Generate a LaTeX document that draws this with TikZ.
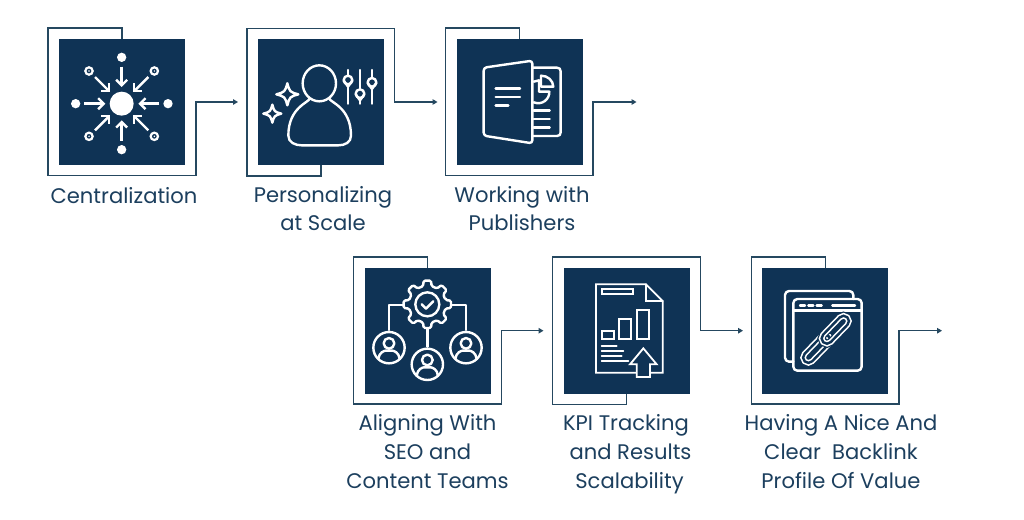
\documentclass[tikz,border=0pt]{standalone}
\usepackage{fontspec}
\setmainfont{Poppins}
\usetikzlibrary{arrows.meta}
\definecolor{navy}{HTML}{0F3355}
\definecolor{ink}{HTML}{1C3F5E}
\definecolor{flowc}{HTML}{254860}
\newcommand{\Sparkle}[3]{%
  \draw[ico,line join=round] (#1,#2-#3) .. controls (#1+.22*#3,#2-.22*#3) .. (#1+#3,#2)
    .. controls (#1+.22*#3,#2+.22*#3) .. (#1,#2+#3)
    .. controls (#1-.22*#3,#2+.22*#3) .. (#1-#3,#2)
    .. controls (#1-.22*#3,#2-.22*#3) .. cycle;}
\newcommand{\PersonRing}[2]{%
  \begin{scope}[shift={(#1,#2)}]
    \draw[ico] (0,0) circle[radius=47];
    \draw[ico] (0,-13) circle[radius=16];
    \draw[ico] (-32,34) .. controls (-30,14) and (-14,9) .. (-10,9) -- (10,9) .. controls (14,9) and (30,14) .. (32,34);
  \end{scope}}
\newcommand{\ChainLink}[2]{%
  \draw[navy,line width=8pt,rounded corners=5.3pt] (#1,-16) rectangle (#2,16);
  \draw[white,line width=5.6pt,rounded corners=5.3pt] (#1,-16) rectangle (#2,16);
  \draw[navy,line width=2.4pt,rounded corners=5.3pt] (#1,-16) rectangle (#2,16);}
\tikzset{
  x=1pt,y=-1pt,
  tile/.style={fill=navy,draw=none,minimum size=126pt,inner sep=0pt,outer sep=0pt},
  flow/.style={draw=flowc,line width=1.5pt,-{Triangle[length=5pt,width=5.5pt]}},
  ico/.style={draw=white,line width=2.4pt,line cap=round,line join=round},
  thin ico/.style={draw=white,line width=1.8pt,line cap=round,line join=miter},
  spoke/.style={draw=white,line width=2.4pt,-{Straight Barb[length=5.5pt,width=11pt,line width=2.4pt]}},
  caption/.style={text=ink,align=center,font=\fontsize{21.1}{29}\selectfont,inner sep=0pt},
}
\begin{document}
\begin{tikzpicture}
\useasboundingbox (0,0) rectangle (1024,519);
\fill[white] (0,0) rectangle (1024,519);
% tiles
\node[tile] (p1) at (121.8,101.8) {};
\node[tile] (p2) at (321,101.8) {};
\node[tile] (p3) at (519.7,101.8) {};
\node[tile] (p4) at (427.5,330.8) {};
\node[tile] (p5) at (626.5,330.8) {};
\node[tile] (p6) at (825.3,330.8) {};
% arrow ends
\coordinate (e1) at (238,102);
\coordinate (e2) at (437.5,102);
\coordinate (e3) at (636.5,102);
\coordinate (e4) at (543.5,330.7);
\coordinate (e5) at (743,330.7);
\coordinate (e6) at (942,330.7);
% connectors
\draw[flow] (p1.north) -- ++(0,-10.7) -- ++(-74,0) -- ++(0,147.4) -- ++(148,0) |- (e1);
\draw[flow] (p2.south) -- ++(0,11) -- ++(-74,0) -- ++(0,-147.4) -- ++(147.3,0) |- (e2);
\draw[flow] (p3.north) -- ++(0,-10.7) -- ++(-74,0) -- ++(0,147.4) -- ++(147.4,0) |- (e3);
\draw[flow] (p4.north) -- ++(0,-11) -- ++(-74.2,0) -- ++(0,147.4) -- ++(148,0) |- (e4);
\draw[flow] (p5.south) -- ++(0,10.6) -- ++(-73.8,0) -- ++(0,-147.4) -- ++(147.6,0) |- (e5);
\draw[flow] (p6.north) -- ++(0,-11) -- ++(-74,0) -- ++(0,147.4) -- ++(147.7,0) |- (e6);
% captions
\node[caption] (t1) at (124,196) {Centralization};
\node[caption] (t2) at (323,208.5) {Personalizing\\[-1pt]at Scale};
\node[caption] (t3) at (522,208.5) {Working with\\[-1pt]Publishers};
\node[caption] (t4) at (427.5,452) {Aligning With\\SEO and\\Content Teams};
\node[caption] (t5) at (626,454) {KPI Tracking\\\hspace*{9pt}and Results\\\hspace*{7pt}Scalability};
\node[caption] (t6) at (841,452) {Having A Nice And\\Clear\ \ Backlink\\Profile Of Value};
% icon 1
\begin{scope}[shift={(30,15)},scale=1/3]
  \fill[white] (275,266) circle[radius=36];
  \foreach \p in {(275,127),(137,266),(414,266),(275,404)} \fill[white] \p circle[radius=14];
  \foreach \p in {(177,168),(373,168),(177,364),(373,364)} {
    \draw[white,line width=2.2pt] \p circle[radius=11];
    \fill[white] \p circle[radius=2.5];}
  \draw[spoke] (275,155) -- (275,216);
  \draw[spoke] (275,378) -- (275,316);
  \draw[spoke] (163,266) -- (226,266);
  \draw[spoke] (388,266) -- (325,266);
  \draw[spoke] (195,186) -- (241,232);
  \draw[spoke] (355,186) -- (309,232);
  \draw[spoke] (195,346) -- (241,300);
  \draw[spoke] (355,346) -- (309,300);
\end{scope}
% icon 2
\begin{scope}[shift={(235,15)},scale=1/3]
  \draw[ico] (253,205) circle[x radius=50,y radius=54];
  \draw[ico] (224,250) .. controls (225,262) and (160,275) .. (160,362)
     .. controls (160,382) and (180,391) .. (200,391) -- (310,391)
     .. controls (330,391) and (348,382) .. (348,362)
     .. controls (348,275) and (283,262) .. (283,250);
  \Sparkle{157}{238}{33}
  \Sparkle{112}{296}{27}
  \foreach \x/\k in {339/195,375/236,411/202} {
    \draw[ico] (\x,165) -- (\x,\k-14);
    \draw[ico] (\x,\k+14) -- (\x,266);
    \draw[ico] (\x,\k) circle[radius=13];
    \draw[ico] (\x-13,\k+2) -- (\x,\k+20) -- (\x+13,\k+2);
  }
\end{scope}
% icon 3
\begin{scope}[shift={(435,15)},scale=1/3]
  \draw[ico] (292,158) -- (366,158) .. controls (373,158) and (377,162) .. (377,169) -- (377,352) .. controls (377,359) and (373,363) .. (366,363) -- (292,363);
  \draw[ico,rounded corners=3pt] (292,137) -- (146,158) -- (146,362) -- (292,385) -- cycle;
  \draw[ico] (182,220) -- (255,220);
  \draw[ico] (182,246) -- (255,246);
  \draw[ico] (182,272) -- (220,272);
  \draw[ico] (318,182) .. controls (338,182) and (354,196) .. (355,215) -- (318,215) -- cycle;
  \draw[ico] (296,262) .. controls (322,272) and (344,252) .. (343,230) -- (312,230) -- (312,196) -- (296,200);
  \draw[ico] (296,287) -- (344,287);
  \draw[ico] (296,312) -- (344,312);
  \draw[ico] (296,337) -- (344,337);
\end{scope}
% icon 4
\begin{scope}[shift={(340,245)},scale=1/3]
  \draw[ico] (190,180) -- (147,180) -- (147,255);
  \draw[ico] (335,180) -- (378,180) -- (378,255);
  \draw[ico] (262,250) -- (262,305);
  \begin{scope}[shift={(262,178)}]
    \draw[ico,rounded corners=1.5pt] (-13:56)
      \foreach \a in {0,45,...,315} { -- (\a-13:56) -- (\a-9:72) -- (\a+9:72) -- (\a+13:56) } -- cycle;
    \draw[ico] (0,0) circle[radius=36];
    \draw[ico] (-17,0) -- (-4,13) -- (18,-9);
  \end{scope}
  \PersonRing{147}{308}
  \PersonRing{262}{358}
  \PersonRing{378}{308}
\end{scope}
% icon 5
\begin{scope}[shift={(540,245)},scale=1/3]
  \draw[thin ico] (168,118) -- (318,118) -- (368,168) -- (368,383) -- (168,383) -- cycle;
  \draw[thin ico] (318,118) -- (318,168) -- (368,168);
  \draw[thin ico] (185,131) rectangle (278,147);
  \draw[thin ico] (187,258) rectangle (222,283);
  \draw[thin ico] (238,221) rectangle (274,283);
  \draw[thin ico] (292,195) rectangle (327,283);
  \draw[thin ico] (185,304) -- (230,304);
  \draw[thin ico] (185,319) -- (250,319);
  \draw[thin ico] (185,333) -- (245,333);
  \draw[thin ico] (185,347) -- (265,347);
  \draw[thin ico,fill=navy] (310,310) -- (350,358) -- (330,358) -- (330,396) -- (290,396) -- (290,358) -- (270,358) -- cycle;
\end{scope}
% icon 6
\begin{scope}[shift={(740,245)},scale=1/3]
  \draw[ico,rounded corners=4pt] (160,350) -- (135,350) -- (135,138) -- (340,138) -- (340,162);
  \draw[ico,rounded corners=4pt] (160,162) rectangle (365,377);
  \draw[ico] (160,197) -- (365,197);
  \foreach \a/\b in {180/195,205/220,230/245,277/345} \draw[ico] (\a,181) -- (\b,181);
  \begin{scope}[shift={(258,283)},rotate=-45]
  \end{scope}
  \begin{scope}[shift={(258,283)},rotate=46]
    \ChainLink{-92}{12}
    \ChainLink{-12}{92}
  \end{scope}
\end{scope}
\end{tikzpicture}
\end{document}
